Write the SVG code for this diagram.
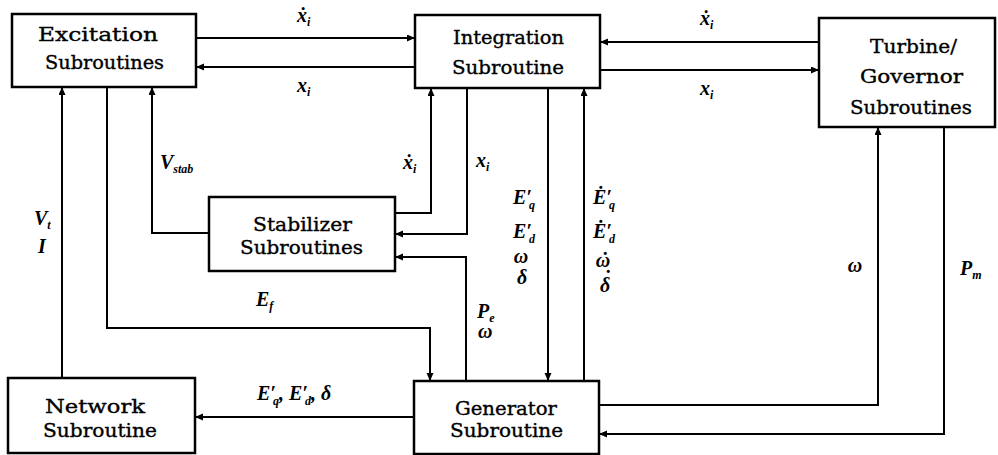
<svg xmlns="http://www.w3.org/2000/svg" width="998" height="455" viewBox="0 0 998 455">
<style>
.box{fill:#fff;stroke:#000;stroke-width:2.5}
.bl{font-family:"DejaVu Serif","Liberation Serif",serif;font-size:19px;fill:#000;stroke:#000;stroke-width:0.35}
.ln{fill:none;stroke:#000;stroke-width:2}
.m{font-family:"Liberation Serif","DejaVu Serif",serif;font-style:italic;font-weight:bold;font-size:20px;fill:#000}
.s{font-size:12px}
</style>
<defs>
<marker id="ah" markerWidth="9" markerHeight="8" refX="8" refY="3.5" orient="auto" markerUnits="userSpaceOnUse">
<path d="M0,0 L8,3.5 L0,7 z" fill="#000"/>
</marker>
</defs>
<rect width="998" height="455" fill="#fff"/>
<g id="connectors">
<path class="ln" d="M196,38 H415" marker-end="url(#ah)"/>
<path class="ln" d="M415,67 H196" marker-end="url(#ah)"/>
<path class="ln" d="M819,42 H600" marker-end="url(#ah)"/>
<path class="ln" d="M600,70 H819" marker-end="url(#ah)"/>
<path class="ln" d="M62,378 V87" marker-end="url(#ah)"/>
<path class="ln" d="M107,87 V328 H430 V381" marker-end="url(#ah)"/>
<path class="ln" d="M209,233 H152 V87" marker-end="url(#ah)"/>
<path class="ln" d="M395,213 H431 V88" marker-end="url(#ah)"/>
<path class="ln" d="M467,88 V234 H395" marker-end="url(#ah)"/>
<path class="ln" d="M466,381 V257 H395" marker-end="url(#ah)"/>
<path class="ln" d="M548,88 V381" marker-end="url(#ah)"/>
<path class="ln" d="M584,381 V88" marker-end="url(#ah)"/>
<path class="ln" d="M414,417 H195" marker-end="url(#ah)"/>
<path class="ln" d="M599,405 H878 V127" marker-end="url(#ah)"/>
<path class="ln" d="M944,127 V434 H599" marker-end="url(#ah)"/>
</g>
<g id="labels">
<text class="m" x="297" y="22">ẋ<tspan class="s" dy="4">i</tspan></text>
<text class="m" x="297" y="92">x<tspan class="s" dy="4">i</tspan></text>
<text class="m" x="700" y="25">ẋ<tspan class="s" dy="4">i</tspan></text>
<text class="m" x="700" y="95">x<tspan class="s" dy="4">i</tspan></text>
<text class="m" x="34" y="225">V<tspan class="s" dy="4">t</tspan></text>
<text class="m" x="38" y="253">I</text>
<text class="m" x="160" y="169">V<tspan class="s" dy="4">stab</tspan></text>
<text class="m" x="256" y="306">E<tspan class="s" dy="4">f</tspan></text>
<text class="m" x="403" y="169">ẋ<tspan class="s" dy="4">i</tspan></text>
<text class="m" x="476" y="167">x<tspan class="s" dy="4">i</tspan></text>
<text class="m" x="513" y="204">E′<tspan class="s" dx="-3" dy="5">q</tspan></text>
<text class="m" x="513" y="238">E′<tspan class="s" dx="-3" dy="5">d</tspan></text>
<text class="m" x="521" y="263" text-anchor="middle">ω</text>
<text class="m" x="522" y="284" text-anchor="middle">δ</text>
<text class="m" x="593" y="204">Ė′<tspan class="s" dx="-3" dy="5">q</tspan></text>
<text class="m" x="593" y="238">Ė′<tspan class="s" dx="-3" dy="5">d</tspan></text>
<text class="m" x="603" y="267" text-anchor="middle">ω</text>
<text class="m" x="604" y="267" text-anchor="middle">˙</text>
<text class="m" x="605" y="292" text-anchor="middle">δ</text>
<text class="m" x="607" y="285" text-anchor="middle">˙</text>
<text class="m" x="477" y="318">P<tspan class="s" dy="4">e</tspan></text>
<text class="m" x="478" y="338">ω</text>
<text class="m" x="257" y="400">E′<tspan class="s" dx="-3" dy="5">q</tspan><tspan dy="-5">, E′</tspan><tspan class="s" dx="-3" dy="5">d</tspan><tspan dy="-5">, δ</tspan></text>
<text class="m" x="855" y="272" text-anchor="middle">ω</text>
<text class="m" x="960" y="275">P<tspan class="s" dy="4">m</tspan></text>
</g>
<g id="excitation">
<rect class="box" x="12" y="14" width="184" height="73"/>
<text class="bl" x="38" y="41" textLength="120" lengthAdjust="spacingAndGlyphs">Excitation</text>
<text class="bl" x="45" y="69" textLength="119" lengthAdjust="spacingAndGlyphs">Subroutines</text>
</g>
<g id="integration">
<rect class="box" x="415" y="15" width="185" height="73"/>
<text class="bl" x="453" y="44" textLength="111" lengthAdjust="spacingAndGlyphs">Integration</text>
<text class="bl" x="452" y="74" textLength="112" lengthAdjust="spacingAndGlyphs">Subroutine</text>
</g>
<g id="turbine">
<rect class="box" x="819" y="18" width="176" height="109"/>
<text class="bl" x="870" y="53" textLength="87" lengthAdjust="spacingAndGlyphs">Turbine/</text>
<text class="bl" x="860" y="83" textLength="103" lengthAdjust="spacingAndGlyphs">Governor</text>
<text class="bl" x="850" y="114" textLength="122" lengthAdjust="spacingAndGlyphs">Subroutines</text>
</g>
<g id="stabilizer">
<rect class="box" x="209" y="197" width="186" height="74"/>
<text class="bl" x="253" y="231" textLength="99" lengthAdjust="spacingAndGlyphs">Stabilizer</text>
<text class="bl" x="240" y="254" textLength="123" lengthAdjust="spacingAndGlyphs">Subroutines</text>
</g>
<g id="network">
<rect class="box" x="8" y="378" width="187" height="75"/>
<text class="bl" x="45" y="413" textLength="100" lengthAdjust="spacingAndGlyphs">Network</text>
<text class="bl" x="43" y="437" textLength="114" lengthAdjust="spacingAndGlyphs">Subroutine</text>
</g>
<g id="generator">
<rect class="box" x="414" y="381" width="185" height="73"/>
<text class="bl" x="455" y="415" textLength="102" lengthAdjust="spacingAndGlyphs">Generator</text>
<text class="bl" x="450" y="437" textLength="113" lengthAdjust="spacingAndGlyphs">Subroutine</text>
</g>
</svg>
